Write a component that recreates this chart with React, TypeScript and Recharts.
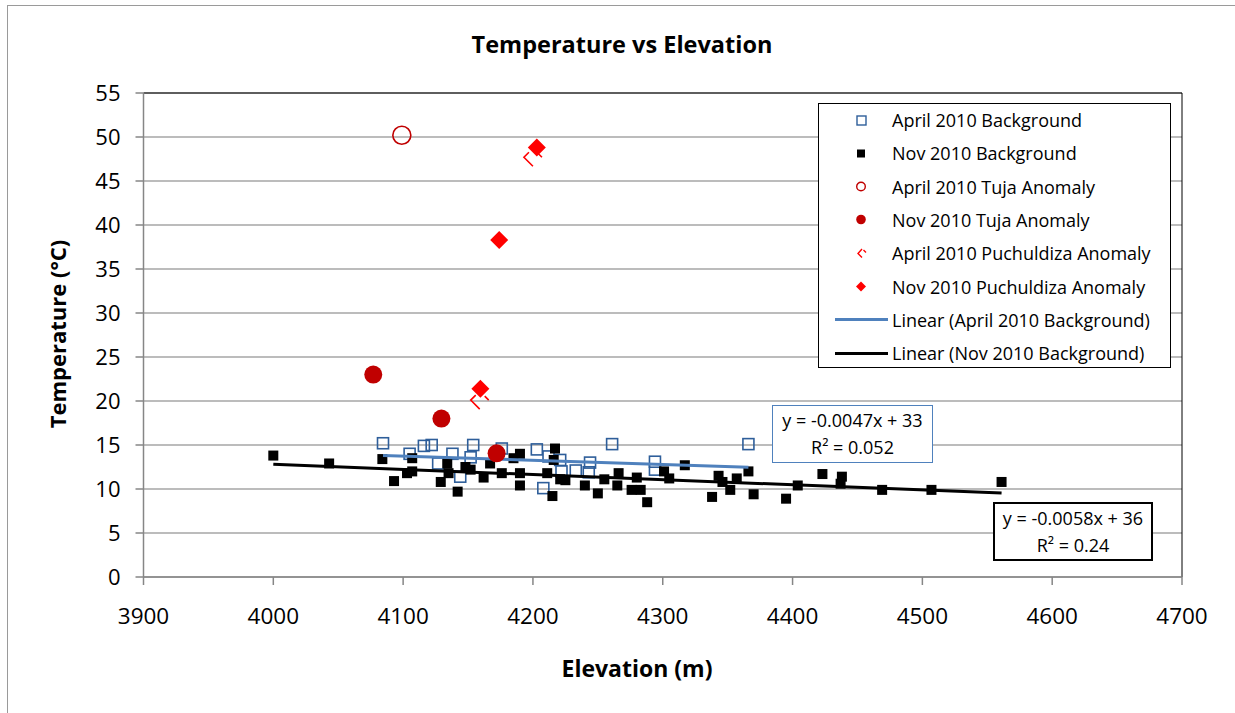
import React from 'react';
import { ScatterChart, Scatter, XAxis, YAxis, CartesianGrid, ReferenceLine } from 'recharts';

// [elevation (m), temperature (°C)]
const aprilBackground: [number, number][] = [
  [4084.5, 15.2], [4105, 14.0], [4116, 14.9], [4122, 15.0], [4127, 12.9], [4138, 14.0],
  [4144, 11.4], [4152, 13.6], [4154, 15.0], [4176, 14.6], [4203, 14.5], [4208, 10.1],
  [4212, 13.7], [4221, 13.3], [4222, 12.0], [4233, 12.1], [4243, 11.9], [4244, 13.0],
  [4261, 15.1], [4294, 13.1], [4294, 12.2], [4366, 15.1],
];

const novBackground: [number, number][] = [
  [4000, 13.8], [4043, 12.9], [4084, 13.4], [4093, 10.9], [4103, 11.8], [4107, 12.0],
  [4107, 13.5], [4129, 10.8], [4134, 12.9], [4135, 11.8], [4142, 9.7], [4148, 12.5],
  [4152, 12.2], [4162, 11.3], [4167, 12.9], [4176, 11.8], [4185, 13.5], [4190, 14.0],
  [4190, 11.8], [4190, 10.4], [4211, 11.8], [4216, 13.3], [4217, 14.6], [4215, 9.2],
  [4221, 11.1], [4225, 11.0], [4240, 10.4], [4250, 9.5], [4255, 11.1], [4266, 11.8],
  [4265, 10.4], [4276, 9.9], [4283, 9.9], [4280, 11.3], [4288, 8.5], [4301, 12.0],
  [4305, 11.2], [4317, 12.7], [4338, 9.1], [4343, 11.5], [4346, 10.8], [4352, 9.9],
  [4357, 11.2], [4366, 12.0], [4370, 9.4], [4395, 8.9], [4404, 10.4], [4423, 11.7],
  [4438, 11.4], [4437, 10.6], [4469, 9.9], [4507, 9.9], [4561, 10.8],
];

const aprilTuja: [number, number][] = [[4099, 50.2]];
const novTuja: [number, number][] = [[4077, 23.0], [4129.5, 18.0], [4172, 14.05]];
const aprilPuchuldiza: [number, number][] = [[4200, 47.7], [4159, 20.1]];
const novPuchuldiza: [number, number][] = [[4203, 48.8], [4174, 38.3], [4159.5, 21.4]];

// trend line coefficients: [slope, intercept]
const aprilFit = [-0.0047, 33];
const novFit = [-0.0058, 36];

const xTicks = [3900, 4000, 4100, 4200, 4300, 4400, 4500, 4600, 4700];
const yTicks = [0, 5, 10, 15, 20, 25, 30, 35, 40, 45, 50, 55];

const FONT = '"Open Sans", sans-serif';
const BLUE_MARK = '#2E5E9A';
const BLUE_LINE = '#4F81BD';
const DARK_RED = '#C00000';
const RED = '#FF0000';

const toPoints = (arr: [number, number][]) => arr.map(([x, y]) => ({ x, y }));

function fitLine(arr: [number, number][], fit: number[]) {
  const xs = arr.map((p) => p[0]);
  const x0 = Math.min(...xs);
  const x1 = Math.max(...xs);
  return [x0, x1].map((x) => ({ x, y: fit[0] * x + fit[1] }));
}

const OpenSquare = (p: any) => (
  <rect x={p.cx - 5.5} y={p.cy - 5.5} width={11} height={11} fill="none" stroke={BLUE_MARK} strokeWidth={1.6} />
);
const BlackSquare = (p: any) => <rect x={p.cx - 5} y={p.cy - 5} width={10} height={10} fill="#000" />;
const OpenCircle = (p: any) => <circle cx={p.cx} cy={p.cy} r={9} fill="none" stroke={DARK_RED} strokeWidth={1.6} />;
const FilledCircle = (p: any) => <circle cx={p.cx} cy={p.cy} r={9} fill={DARK_RED} />;
const Diamond = (p: any) => (
  <path d={`M${p.cx},${p.cy - 9}L${p.cx + 9},${p.cy}L${p.cx},${p.cy + 9}L${p.cx - 9},${p.cy}Z`} fill={RED} />
);
const Chevron = (p: any) => (
  <path
    d={`M${p.cx - 4},${p.cy - 5}L${p.cx - 9},${p.cy}L${p.cx},${p.cy + 9}M${p.cx + 5},${p.cy - 4}L${p.cx + 9},${p.cy}`}
    fill="none"
    stroke={RED}
    strokeWidth={1.6}
  />
);
const NoShape = () => <g />;

const legendItems: { label: string; icon: React.ReactNode }[] = [
  { label: 'April 2010 Background', icon: <rect x={22} y={5} width={9} height={9} fill="none" stroke={BLUE_MARK} strokeWidth={1.4} /> },
  { label: 'Nov 2010 Background', icon: <rect x={22} y={5.5} width={8} height={8} fill="#000" /> },
  { label: 'April 2010 Tuja Anomaly', icon: <circle cx={26} cy={9.5} r={4.3} fill="none" stroke={DARK_RED} strokeWidth={1.4} /> },
  { label: 'Nov 2010 Tuja Anomaly', icon: <circle cx={26} cy={9.5} r={4.8} fill={DARK_RED} /> },
  { label: 'April 2010 Puchuldiza Anomaly', icon: <path d="M27,5L23,9.5L27,13.5M28.5,6L31,8.5" fill="none" stroke={RED} strokeWidth={1.4} /> },
  { label: 'Nov 2010 Puchuldiza Anomaly', icon: <path d="M26,4.5L31,9.5L26,14.5L21,9.5Z" fill={RED} /> },
  { label: 'Linear (April 2010 Background)', icon: <line x1={0} y1={9.5} x2={53} y2={9.5} stroke={BLUE_LINE} strokeWidth={3} /> },
  { label: 'Linear (Nov 2010 Background)', icon: <line x1={0} y1={9.5} x2={53} y2={9.5} stroke="#000" strokeWidth={3} /> },
];

export default function App() {
  const abs = (s: React.CSSProperties): React.CSSProperties => ({ position: 'absolute', fontFamily: FONT, color: '#000', ...s });
  return (
    <div style={{ position: 'absolute', left: 0, top: 0, width: 1235, height: 713, background: '#fff', overflow: 'hidden' }}>
      <div style={{ position: 'absolute', left: 7, top: 5, width: 1260, height: 740, border: '1.5px solid #9a9a9a' }} />
      <div style={abs({ left: 322, top: 28, width: 600, lineHeight: '32px', textAlign: 'center', fontSize: 23.5, fontWeight: 700 })}>
        Temperature vs Elevation
      </div>
      <div style={abs({ left: 337, top: 652, width: 600, lineHeight: '32px', textAlign: 'center', fontSize: 23, fontWeight: 700 })}>
        Elevation (m)
      </div>
      <div
        style={abs({
          left: 57 - 150, top: 334 - 16, width: 300, lineHeight: '32px', textAlign: 'center', fontSize: 22, fontWeight: 700,
          transform: 'rotate(-90deg)',
        })}
      >
        Temperature (°C)
      </div>

      <div style={{ position: 'absolute', left: 0, top: 0 }}>
        <ScatterChart width={1235} height={713} margin={{ top: 93, right: 53, bottom: 76, left: 63.5 }}>
          <CartesianGrid horizontal vertical={false} stroke="#a6a6a6" strokeWidth={1.5} />
          <XAxis
            type="number"
            dataKey="x"
            domain={[3900, 4700]}
            ticks={xTicks}
            interval={0}
            height={60}
            stroke="#868686"
            strokeWidth={1.5}
            tickSize={8}
            tickMargin={23}
            tick={{ fill: '#000', fontSize: 22.5, fontFamily: FONT }}
          />
          <YAxis
            type="number"
            dataKey="y"
            domain={[0, 55]}
            ticks={yTicks}
            interval={0}
            width={80}
            stroke="#868686"
            strokeWidth={1.5}
            tickSize={8}
            tickMargin={15}
            tick={{ fill: '#000', fontSize: 22, fontFamily: FONT }}
          />
          <ReferenceLine y={55} stroke="#000" strokeWidth={1} />
          <ReferenceLine x={4700} stroke="#000" strokeWidth={1} />
          <Scatter data={toPoints(aprilBackground)} shape={OpenSquare} isAnimationActive={false} />
          <Scatter data={toPoints(novBackground)} shape={BlackSquare} isAnimationActive={false} />
          <Scatter
            data={fitLine(aprilBackground, aprilFit)}
            line={{ stroke: BLUE_LINE, strokeWidth: 3 }}
            shape={NoShape}
            isAnimationActive={false}
          />
          <Scatter
            data={fitLine(novBackground, novFit)}
            line={{ stroke: '#000', strokeWidth: 3 }}
            shape={NoShape}
            isAnimationActive={false}
          />
          <Scatter data={toPoints(aprilTuja)} shape={OpenCircle} isAnimationActive={false} />
          <Scatter data={toPoints(novTuja)} shape={FilledCircle} isAnimationActive={false} />
          <Scatter data={toPoints(aprilPuchuldiza)} shape={Chevron} isAnimationActive={false} />
          <Scatter data={toPoints(novPuchuldiza)} shape={Diamond} isAnimationActive={false} />
        </ScatterChart>
      </div>

      <div style={abs({ left: 818, top: 103, width: 353, height: 265, border: '1.5px solid #000', background: '#fff', boxSizing: 'border-box' })}>
        {legendItems.map((item, i) => (
          <div key={item.label} style={{ position: 'absolute', left: 16, top: 5 + i * 33.3, height: 22, display: 'flex', alignItems: 'center' }}>
            <svg width={55} height={19} style={{ display: 'block' }}>{item.icon}</svg>
            <span style={{ marginLeft: 2, fontSize: 18, lineHeight: '22px', whiteSpace: 'nowrap' }}>{item.label}</span>
          </div>
        ))}
      </div>

      <div style={abs({ left: 772, top: 405, width: 161, height: 58, border: `1.5px solid ${BLUE_LINE}`, boxSizing: 'border-box', background: '#fff', textAlign: 'center', fontSize: 18, lineHeight: '27px', paddingTop: 1 })}>
        <div>y = {aprilFit[0]}x + {aprilFit[1]}</div>
        <div>R² = 0.052</div>
      </div>
      <div style={abs({ left: 993, top: 502, width: 160, height: 59, border: '2px solid #000', boxSizing: 'border-box', background: '#fff', textAlign: 'center', fontSize: 18, lineHeight: '27px', paddingTop: 1 })}>
        <div>y = {novFit[0]}x + {novFit[1]}</div>
        <div>R² = 0.24</div>
      </div>
    </div>
  );
}
